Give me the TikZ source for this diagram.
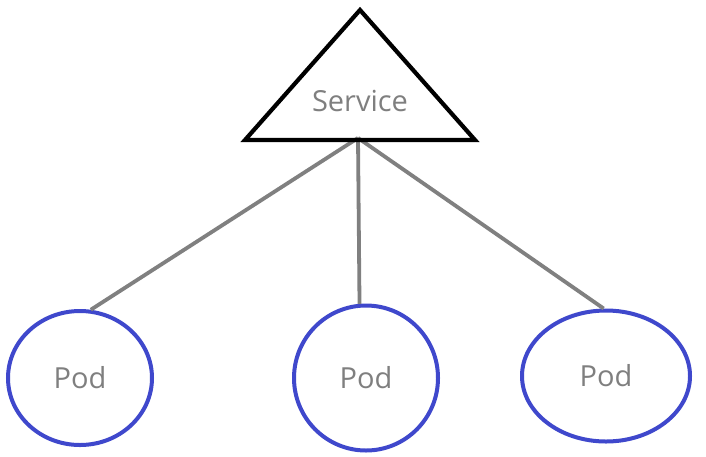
\documentclass[tikz,border=0pt]{standalone}
\usepackage{fontspec}
\setmainfont{Open Sans}
\usetikzlibrary{shapes.geometric}
\definecolor{podblue}{RGB}{63,72,204}
\definecolor{txtgray}{RGB}{127,127,127}
\definecolor{linegray}{RGB}{128,128,128}
\tikzset{
  pod/.style={ellipse, draw=podblue, line width=4pt, inner sep=0pt,
    text=txtgray, font=\fontsize{29}{34}\selectfont},
  link/.style={draw=linegray, line width=3.8pt},
  svcshape/.style={draw=black, line width=4.2pt, line join=miter},
  lbl/.style={text=txtgray, font=\fontsize{29}{34}\selectfont, inner sep=0pt}
}
\begin{document}
\begin{tikzpicture}[x=1pt,y=-1pt]
\useasboundingbox (0,0) rectangle (706,456);
\fill[white] (0,0) rectangle (706,456);
% pods
\node[pod, minimum width=144pt, minimum height=134pt] (p1) at (80,378) {Pod};
\node[pod, minimum width=144pt, minimum height=145pt] (p2) at (366,378) {Pod};
\node[pod, minimum width=168pt, minimum height=131pt] (p3) at (606,376) {Pod};
% service
\coordinate (apex) at (360,10);
\coordinate (bl) at (245,140);
\coordinate (br) at (475,140);
\coordinate (svc) at (358,138);
\draw[link] (svc) -- (p1.81);
\draw[link] (svc) -- (p2.95);
\draw[link] (svc) -- (p3.92);
\draw[svcshape] (apex) -- (bl) -- (br) -- cycle;
\node[lbl] (service) at (360,101) {Service};
\end{tikzpicture}
\end{document}
